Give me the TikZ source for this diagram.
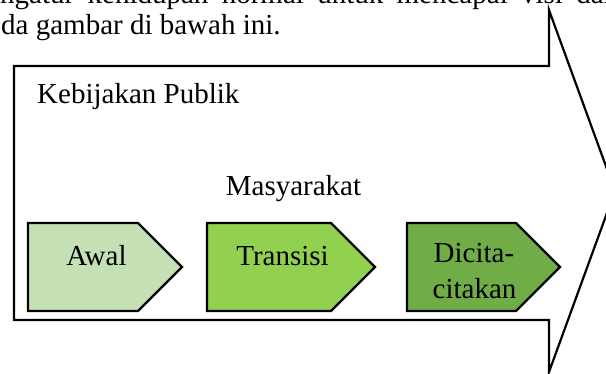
\documentclass[tikz,border=0pt]{standalone}
\usepackage{fontspec}
\setmainfont{Liberation Serif}
\begin{document}
\begin{tikzpicture}[x=1pt,y=-1pt,
  txt/.style={inner sep=0pt, anchor=base, font=\fontsize{29}{34}\selectfont},
  outline/.style={draw=black, line width=2.2pt, line join=miter},
  stagebox/.style={outline}]
\useasboundingbox (0,0) rectangle (606,373);
\clip (0,0) rectangle (606,373);
\definecolor{early}{HTML}{C5E0B4}
\definecolor{middle}{HTML}{92D050}
\definecolor{late}{HTML}{70AD47}

% running text above the figure
\node[txt, anchor=base west] (line1) at (0,3.5)
  {\makebox[618pt][s]{ngatur kehidupan normal untuk mencapai visi dan}};
\node[txt, anchor=base west] (line2) at (1,34.3) {da gambar di bawah ini.};

% large arrow: public policy
\draw[outline, fill=white] (14,66) -- (549,66) -- (549,10) -- (615,191)
  -- (549,372) -- (549,320) -- (14,320) -- cycle;
\node[txt, anchor=base west] (policy) at (37,103) {Kebijakan Publik};
\node[txt] (society) at (293.5,195) {Masyarakat};

% stages of society
\draw[stagebox, fill=early]  (28,223) -- (138,223) -- (182,267) -- (138,311) -- (28,311) -- cycle;
\draw[stagebox, fill=middle] (207,223) -- (331,223) -- (375,267) -- (331,311) -- (207,311) -- cycle;
\draw[stagebox, fill=late]   (407,223) -- (516,223) -- (560,267) -- (516,311) -- (407,311) -- cycle;

\node[txt] (awal) at (96.5,265) {Awal};
\node[txt] (transisi) at (282.5,265) {Transisi};
\node[txt] (cita1) at (474,262) {Dicita-};
\node[txt] (cita2) at (474.5,298) {citakan};
\end{tikzpicture}
\end{document}
